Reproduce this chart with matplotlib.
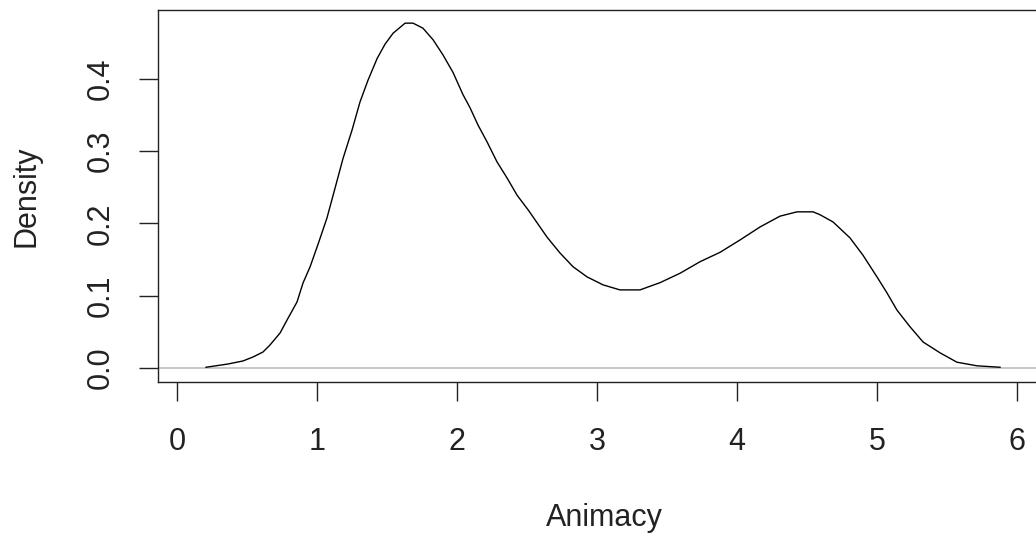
import matplotlib
matplotlib.use("Agg")
import matplotlib.pyplot as plt

# density curve (Animacy, density)
density_x = [0.207, 0.364, 0.471, 0.543, 0.614, 0.664, 0.736, 0.786, 0.857, 0.900,
             0.950, 1.007, 1.071, 1.129, 1.186, 1.250, 1.307, 1.364, 1.429, 1.486,
             1.543, 1.629, 1.686, 1.757, 1.829, 1.900, 1.971, 2.043, 2.093, 2.150,
             2.214, 2.286, 2.357, 2.429, 2.507, 2.543, 2.643, 2.736, 2.829, 2.929,
             3.043, 3.164, 3.307, 3.450, 3.593, 3.736, 3.879, 4.021, 4.164, 4.307,
             4.429, 4.543, 4.593, 4.686, 4.807, 4.900, 5.000, 5.071, 5.143, 5.236,
             5.329, 5.450, 5.571, 5.714, 5.879]
density_y = [0.001, 0.0055, 0.0097, 0.0152, 0.0221, 0.0318, 0.0484, 0.0664, 0.0913, 0.1176,
             0.1397, 0.171, 0.2075, 0.249, 0.290, 0.329, 0.368, 0.398, 0.428, 0.448,
             0.463, 0.477, 0.477, 0.470, 0.454, 0.433, 0.409, 0.378, 0.360, 0.336,
             0.313, 0.285, 0.263, 0.239, 0.219, 0.209, 0.181, 0.159, 0.140, 0.126,
             0.115, 0.108, 0.108, 0.118, 0.131, 0.147, 0.160, 0.177, 0.195, 0.210,
             0.216, 0.216, 0.212, 0.202, 0.180, 0.156, 0.126, 0.104, 0.080, 0.057,
             0.036, 0.021, 0.008, 0.003, 0.001]

x_ticks = [0, 1, 2, 3, 4, 5, 6]
y_ticks = [0.0, 0.1, 0.2, 0.3, 0.4]
y_tick_labels = ["0.0", "0.1", "0.2", "0.3", "0.4"]

plt.rcParams['font.family'] = ['Liberation Sans', 'DejaVu Sans']
plt.rcParams['font.size'] = 22

W, H = 1036, 536
fig = plt.figure(figsize=(W / 100, H / 100), dpi=100)
# plot region in pixels: left 158, right 1050 (cropped), top 10, bottom 382
ax = fig.add_axes([158 / W, 1 - 382 / H, (1050 - 158) / W, (382 - 10) / H])

ax.axhline(0, color='#BEBEBE', lw=1.2, zorder=1)
ax.plot(density_x, density_y, color='black', lw=1.0, zorder=2)

ax.set_xlim(-0.136, 6.236)
ax.set_ylim(-0.0194, 0.4952)

ax.set_xticks(x_ticks)
ax.set_yticks(y_ticks)
ax.set_yticklabels(y_tick_labels, rotation=90, va='center')

for s in ax.spines.values():
    s.set_linewidth(1.0)
    s.set_color('#222222')

ax.tick_params(axis='both', direction='out', length=13.5, width=1.0,
               color='#222222', labelcolor='#222222')
ax.tick_params(axis='x', pad=19)
ax.tick_params(axis='y', pad=17)

ax.set_xlabel('Animacy', labelpad=33, color='#222222')
ax.set_ylabel('Density', labelpad=32, color='#222222')

fig.savefig('out.png', dpi=100)
